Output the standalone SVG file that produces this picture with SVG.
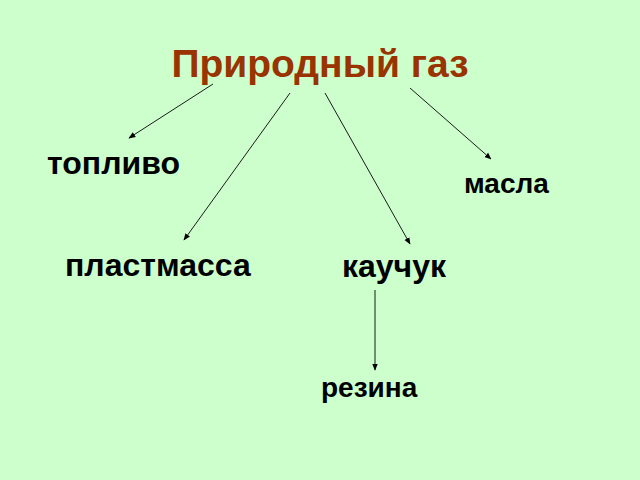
<svg xmlns="http://www.w3.org/2000/svg" width="640" height="480" viewBox="0 0 640 480">
<defs>
<marker id="ah" viewBox="0 0 10 10" refX="9" refY="5" markerWidth="7" markerHeight="7" orient="auto" markerUnits="userSpaceOnUse">
<path d="M0,1 L10,5 L0,9 Z" fill="#000"/>
</marker>
<style>
.lbl{font-family:"Liberation Sans",Arial,sans-serif;font-weight:bold;fill:#000}
.title{font-family:"Liberation Sans",Arial,sans-serif;font-weight:bold;fill:#993300;font-size:39px}
.c{stroke:#1a1a1a;stroke-width:1;fill:none;marker-end:url(#ah)}
</style>
</defs>
<rect width="640" height="480" fill="#CCFFCC"/>
<g id="title"><text class="title" x="320" y="77" text-anchor="middle">Природный газ</text></g>
<g id="n-toplivo"><text class="lbl" x="47" y="174" font-size="32">топливо</text></g>
<g id="n-masla"><text class="lbl" x="464" y="193" font-size="28">масла</text></g>
<g id="n-plastmassa"><text class="lbl" x="65" y="276" font-size="32">пластмасса</text></g>
<g id="n-kauchuk"><text class="lbl" x="342" y="277" font-size="32">каучук</text></g>
<g id="n-rezina"><text class="lbl" x="321" y="397" font-size="28">резина</text></g>
<g id="connectors">
<line class="c" x1="213" y1="84" x2="129" y2="138"/>
<line class="c" x1="290" y1="93" x2="184" y2="240"/>
<line class="c" x1="325" y1="93" x2="410" y2="244"/>
<line class="c" x1="410" y1="88" x2="491" y2="159"/>
<line class="c" x1="375" y1="290" x2="375" y2="370"/>
</g>
</svg>
